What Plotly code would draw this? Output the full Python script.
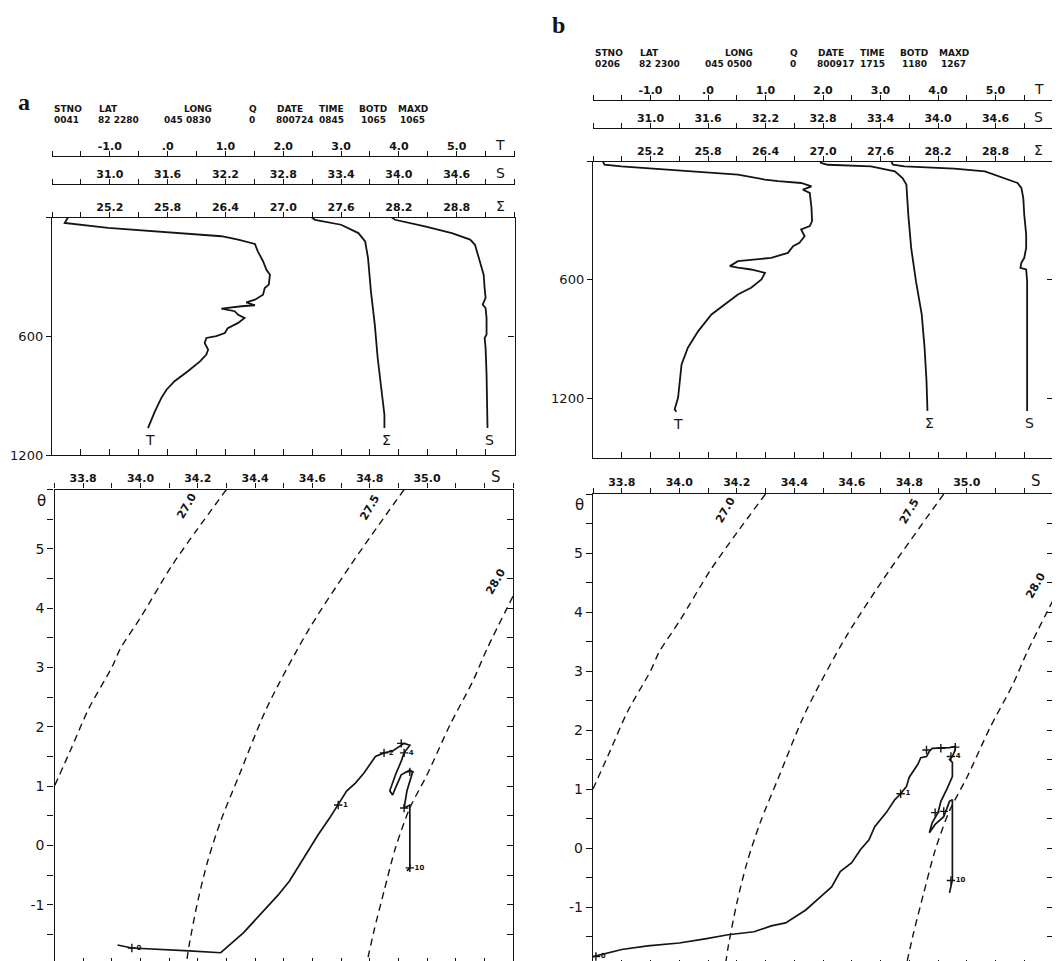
import plotly.graph_objects as go

W, H = 1060, 961

# ---------------- data ----------------
HDR_KEYS = ["STNO", "LAT", "LONG", "Q", "DATE", "TIME", "BOTD", "MAXD"]
HDR_A = ["0041", "82 2280", "045 0830", "0", "800724", "0845", "1065", "1065"]
HDR_B = ["0206", "82 2300", "045 0500", "0", "800917", "1715", "1180", "1267"]

T_LABEL_VALS = [-1.0, 0.0, 1.0, 2.0, 3.0, 4.0, 5.0]
T_LABELS = ["-1.0", ".0", "1.0", "2.0", "3.0", "4.0", "5.0"]
S_LABEL_VALS = [31.0, 31.6, 32.2, 32.8, 33.4, 34.0, 34.6]
S_LABELS = ["31.0", "31.6", "32.2", "32.8", "33.4", "34.0", "34.6"]
SIG_LABEL_VALS = [25.2, 25.8, 26.4, 27.0, 27.6, 28.2, 28.8]
SIG_LABELS = ["25.2", "25.8", "26.4", "27.0", "27.6", "28.2", "28.8"]
DEPTH_LABEL_VALS = [0, 600, 1200]
DEPTH_LABELS = ["", "600", "1200"]
TS_S_LABEL_VALS = [33.8, 34.0, 34.2, 34.4, 34.6, 34.8, 35.0]
TS_S_LABELS = ["33.8", "34.0", "34.2", "34.4", "34.6", "34.8", "35.0"]
TS_T_LABEL_VALS = [-1, 0, 1, 2, 3, 4, 5]
TS_T_LABELS = ["-1", "0", "1", "2", "3", "4", "5"]

# station a profiles
A_T_DEPTH = [0, 30, 55, 81, 97, 114, 136, 173, 223, 266, 291, 341, 358, 392, 417, 430, 445, 450,
             462, 475, 493, 509, 534, 560, 585, 601, 610, 635, 669, 694, 728, 778, 828, 871, 913,
             980, 1039, 1064]
A_T = [-1.72, -1.78, -1.03, 0.12, 0.93, 1.22, 1.51, 1.56, 1.65, 1.71, 1.77, 1.75, 1.68, 1.65, 1.51,
       1.36, 1.51, 1.28, 0.93, 1.16, 1.22, 1.33, 1.22, 1.04, 0.99, 0.84, 0.67, 0.64, 0.70, 0.67, 0.56,
       0.35, 0.12, -0.02, -0.11, -0.22, -0.31, -0.34]
A_SIG_DEPTH = [0, 14, 39, 81, 123, 207, 375, 543, 711, 879, 997, 1064]
A_SIG = [27.29, 27.33, 27.60, 27.78, 27.85, 27.88, 27.91, 27.95, 27.98, 28.02, 28.05, 28.05]
A_S_DEPTH = [0, 14, 47, 81, 114, 140, 207, 291, 358, 408, 442, 459, 509, 593, 610, 660, 795, 963, 1064]
A_S = [33.92, 33.96, 34.27, 34.55, 34.74, 34.79, 34.83, 34.88, 34.89, 34.90, 34.87, 34.90, 34.91,
       34.91, 34.89, 34.90, 34.91, 34.92, 34.92]

# station b profiles
B_T_DEPTH = [0, 19, 27, 44, 69, 94, 102, 111, 128, 145, 161, 237, 304, 329, 346, 380, 413, 430, 464,
             489, 506, 531, 539, 548, 565, 598, 640, 674, 725, 775, 859, 943, 1027, 1111, 1195, 1254, 1267]
B_T = [-1.83, -1.80, -1.51, -0.64, 0.52, 0.99, 1.22, 1.62, 1.80, 1.65, 1.77, 1.80, 1.81, 1.77, 1.62,
       1.68, 1.59, 1.48, 1.39, 1.10, 0.52, 0.38, 0.52, 0.75, 0.99, 0.93, 0.75, 0.52, 0.29, 0.06, -0.17,
       -0.35, -0.46, -0.49, -0.52, -0.58, -0.55]
B_SIG_DEPTH = [0, 10, 19, 27, 52, 86, 119, 271, 439, 607, 775, 943, 1111, 1262]
B_SIG = [26.97, 26.98, 27.05, 27.50, 27.75, 27.83, 27.87, 27.89, 27.92, 27.97, 28.03, 28.06, 28.08, 28.09]
B_S_DEPTH = [0, 19, 27, 39, 52, 77, 94, 111, 136, 187, 271, 372, 439, 489, 514, 540, 548, 607, 775,
             1111, 1262]
B_S = [33.51, 33.53, 33.65, 34.17, 34.49, 34.63, 34.73, 34.83, 34.87, 34.89, 34.90, 34.92, 34.92,
       34.90, 34.87, 34.86, 34.92, 34.93, 34.93, 34.93, 34.93]

# T-S curves
A_TS_S = [33.92, 33.97, 34.17, 34.28, 34.36, 34.44, 34.48, 34.52, 34.57, 34.62, 34.66, 34.69, 34.72,
          34.75, 34.78, 34.82, 34.85, 34.88, 34.91, 34.92, 34.94, 34.92, 34.91, 34.89, 34.87, 34.88,
          34.89, 34.91, 34.94, 34.95, 34.93, 34.92, 34.94, 34.94, 34.94, 34.93]
A_TS_T = [-1.68, -1.73, -1.78, -1.81, -1.47, -1.05, -0.84, -0.60, -0.21, 0.18, 0.46, 0.68, 0.92,
          1.05, 1.22, 1.50, 1.56, 1.59, 1.69, 1.72, 1.69, 1.56, 1.42, 1.19, 0.92, 0.85, 0.97, 1.19,
          1.27, 1.24, 0.92, 0.63, 0.68, 0.51, -0.38, -0.43]
B_TS_S = [33.70, 33.80, 33.89, 34.00, 34.09, 34.17, 34.26, 34.32, 34.37, 34.44, 34.50, 34.53, 34.56,
          34.60, 34.63, 34.66, 34.68, 34.72, 34.75, 34.77, 34.79, 34.80, 34.83, 34.84, 34.86, 34.87,
          34.88, 34.91, 34.94, 34.96, 34.96, 34.95, 34.94, 34.95, 34.95, 34.93, 34.91, 34.90, 34.88,
          34.87, 34.89, 34.92, 34.93, 34.94, 34.95, 34.95, 34.95, 34.95, 34.94]
B_TS_T = [-1.84, -1.72, -1.66, -1.61, -1.54, -1.47, -1.42, -1.32, -1.27, -1.05, -0.79, -0.66, -0.40,
          -0.25, -0.03, 0.14, 0.36, 0.60, 0.82, 0.92, 1.04, 1.20, 1.42, 1.53, 1.55, 1.64, 1.69, 1.69,
          1.70, 1.72, 1.67, 1.55, 1.50, 1.45, 1.21, 0.99, 0.79, 0.60, 0.43, 0.26, 0.40, 0.53, 0.65,
          0.79, 0.82, 0.70, 0.31, -0.54, -0.76]

# depth markers on T-S curves (every 100 m)
A_MK_S = [33.97, 34.69, 34.85, 34.91, 34.92, 34.94, 34.92, 34.94]
A_MK_T = [-1.73, 0.68, 1.56, 1.72, 1.56, 1.24, 0.63, -0.38]
A_MK_L = ["0", "1", "2", "", "4", "", "", "10"]
B_MK_S = [33.71, 34.77, 34.86, 34.91, 34.96, 34.945, 34.89, 34.92, 34.945]
B_MK_T = [-1.84, 0.92, 1.66, 1.69, 1.71, 1.55, 0.60, 0.62, -0.55]
B_MK_L = ["0", "1", "", "", "", "4", "", "", "10"]

# isopycnals (sigma-theta)
ISO_NAMES = ["27.0", "27.5", "28.0"]
ISO_27_0_S = [34.30, 34.20, 34.11, 34.00, 33.93, 33.90, 33.82, 33.76, 33.70]
ISO_27_0_T = [6.0, 5.34, 4.72, 3.84, 3.32, 3.00, 2.31, 1.65, 1.00]
ISO_27_5_S = [34.92, 34.73, 34.58, 34.44, 34.345, 34.28, 34.235, 34.20, 34.17, 34.16]
ISO_27_5_T = [6.0, 4.70, 3.58, 2.31, 1.19, 0.41, -0.26, -0.94, -1.68, -2.0]
ISO_28_0_S = [35.30, 35.21, 35.16, 35.08, 35.00, 34.94, 34.89, 34.85, 34.815, 34.79]
ISO_28_0_T = [4.20, 3.32, 2.77, 2.03, 1.19, 0.63, -0.04, -0.77, -1.44, -1.98]
ISO_LBL_S = [34.16, 34.80, 35.24]
ISO_LBL_T = [5.72, 5.70, 4.45]

# ---------------- style ----------------
FONT = "DejaVu Sans"
INK = "#141414"
LW = 1.4
fig = go.Figure()
layout_axes = {}
annotations = []


def fx(px):
    return px / W


def fy(py):
    return 1 - py / H


def ticks_and_text(lo, hi, step, label_vals, labels):
    n = int(round((hi - lo) / step))
    vals = [round(lo + step * i, 4) for i in range(n + 1)]
    text = []
    for v in vals:
        t = ""
        for lv, lt in zip(label_vals, labels):
            if abs(lv - v) < 1e-6:
                t = lt
        text.append(t)
    return vals, text


def base_axis(**kw):
    d = dict(showgrid=False, zeroline=False, showline=True, linewidth=LW, linecolor=INK,
             tickcolor=INK, tickwidth=LW, automargin=False, fixedrange=True, layer="above traces")
    d.update(kw)
    return d


TICKFONT_B = dict(family=FONT, size=11, color=INK, weight="bold")
TICKFONT_N = dict(family=FONT, size=13, color=INK)


def empty_trace(xa, ya):
    fig.add_trace(go.Scatter(x=[], y=[], xaxis=xa, yaxis=ya, mode="lines",
                             showlegend=False, hoverinfo="skip"))


def profile_panel(ids, box, header_y, depth_max, hdr_vals, prof):
    xb, xT, xS, xG, yD, yR = ids
    left, right, top, bottom = box
    dom_x = [fx(left), fx(right)]
    dom_y = [fy(bottom), fy(top)]
    xbid = "x" if xb == 1 else f"x{xb}"
    ydid = "y" if yD == 1 else f"y{yD}"
    v, _ = ticks_and_text(-2, 6, 0.5, [], [])
    layout_axes["xaxis" if xb == 1 else f"xaxis{xb}"] = base_axis(
        domain=dom_x, range=[-2, 6], anchor=ydid, side="bottom", tickmode="array",
        tickvals=v, ticktext=[""] * len(v), ticks="inside", ticklen=6)
    layout_axes["yaxis" if yD == 1 else f"yaxis{yD}"] = base_axis(
        domain=dom_y, range=[depth_max, 0], anchor=xbid, side="left", tickmode="array",
        tickvals=DEPTH_LABEL_VALS, ticktext=DEPTH_LABELS, ticks="outside", ticklen=5,
        tickfont=TICKFONT_N)
    layout_axes[f"yaxis{yR}"] = base_axis(
        range=[depth_max, 0], anchor=xbid, overlaying=ydid, side="right", tickmode="array",
        tickvals=DEPTH_LABEL_VALS, ticktext=[""] * 3, ticks="inside", ticklen=6)
    empty_trace(xbid, ydid)
    empty_trace(xbid, f"y{yR}")
    yT, yS = header_y
    specs = [(xT, -2, 6, 0.5, T_LABEL_VALS, T_LABELS, yT, "T"),
             (xS, 30.4, 35.2, 0.3, S_LABEL_VALS, S_LABELS, yS, "S"),
             (xG, 24.6, 29.4, 0.3, SIG_LABEL_VALS, SIG_LABELS, top, "Σ")]
    for num, lo, hi, st, lv, lt, py, letter in specs:
        v, t = ticks_and_text(lo, hi, st, lv, lt)
        layout_axes[f"xaxis{num}"] = base_axis(
            range=[lo, hi], anchor="free", position=fy(py), overlaying=xbid, side="top",
            tickmode="array", tickvals=v, ticktext=t, ticks="outside", ticklen=5,
            ticklabelstandoff=-4, tickfont=TICKFONT_B)
        annotations.append(dict(x=lo + st * 15.5, y=fy(py), xref=f"x{num}", yref="paper",
                                text=letter, showarrow=False, yanchor="bottom", yshift=1,
                                font=dict(family=FONT, size=14, color=INK)))
    (tD, tV), (sD, sV), (gD, gV) = prof
    for num, xs, ds, letter in [(xT, tV, tD, "T"), (xS, sV, sD, "S"), (xG, gV, gD, "Σ")]:
        fig.add_trace(go.Scatter(x=xs, y=ds, xaxis=f"x{num}", yaxis=ydid, mode="lines",
                                 line=dict(color=INK, width=1.8), showlegend=False,
                                 hoverinfo="skip"))
        annotations.append(dict(x=xs[-1], y=ds[-1], xref=f"x{num}", yref=ydid, text=letter,
                                showarrow=False, yanchor="top", yshift=-2, xshift=2,
                                font=dict(family=FONT, size=14, color=INK)))
    hx = [0, 45, 130, 195, 223, 265, 305, 344]
    vx = [0, 44, 110, 195, 222, 265, 307, 346]
    ky, vy = header_y[0] - 47, header_y[0] - 36
    for k, kxo, val, vxo in zip(HDR_KEYS, hx, hdr_vals, vx):
        annotations.append(dict(x=fx(left + kxo), y=fy(ky), xref="paper", yref="paper", text=k,
                                showarrow=False, xanchor="left", yanchor="middle",
                                font=dict(family=FONT, size=9, color=INK, weight="bold")))
        annotations.append(dict(x=fx(left + vxo), y=fy(vy), xref="paper", yref="paper", text=val,
                                showarrow=False, xanchor="left", yanchor="middle",
                                font=dict(family=FONT, size=9, color=INK, weight="bold")))


def ts_panel(ids, box, curve, marks):
    xt, xbt, yl, yr = ids
    left, right, top, bottom = box
    xtid, ylid = f"x{xt}", f"y{yl}"
    v, t = ticks_and_text(33.7, 35.3, 0.1, TS_S_LABEL_VALS, TS_S_LABELS)
    layout_axes[f"xaxis{xt}"] = base_axis(
        domain=[fx(left), fx(right)], range=[33.7, 35.3], anchor=ylid, side="top",
        tickmode="array", tickvals=v, ticktext=t, ticks="outside", ticklen=5,
        ticklabelstandoff=-3, tickfont=TICKFONT_B)
    layout_axes[f"xaxis{xbt}"] = base_axis(
        range=[33.7, 35.3], anchor=ylid, overlaying=xtid, side="bottom", tickmode="array",
        tickvals=v, ticktext=[""] * len(v), ticks="inside", ticklen=6)
    vy, ty = ticks_and_text(-2, 6, 0.5, TS_T_LABEL_VALS, TS_T_LABELS)
    layout_axes[f"yaxis{yl}"] = base_axis(
        domain=[fy(bottom), fy(top)], range=[-2, 6], anchor=xtid, side="left", tickmode="array",
        tickvals=vy, ticktext=ty, ticks="outside", ticklen=6, tickfont=dict(TICKFONT_N, size=14))
    layout_axes[f"yaxis{yr}"] = base_axis(
        range=[-2, 6], anchor=xtid, overlaying=ylid, side="right", tickmode="array",
        tickvals=vy, ticktext=[""] * len(vy), ticks="inside", ticklen=6)
    empty_trace(f"x{xbt}", ylid)
    empty_trace(xtid, f"y{yr}")
    annotations.append(dict(x=35.24, y=fy(top), xref=xtid, yref="paper", text="S",
                            showarrow=False, yanchor="bottom", yshift=2,
                            font=dict(family=FONT, size=15, color=INK)))
    annotations.append(dict(x=fx(left), y=6, xref="paper", yref=ylid, text="θ",
                            showarrow=False, xanchor="right", xshift=-7, yshift=-11,
                            font=dict(family=FONT, size=15, color=INK)))
    for s_arr, t_arr in [(ISO_27_0_S, ISO_27_0_T), (ISO_27_5_S, ISO_27_5_T), (ISO_28_0_S, ISO_28_0_T)]:
        fig.add_trace(go.Scatter(x=s_arr, y=t_arr, xaxis=xtid, yaxis=ylid, mode="lines",
                                 line=dict(color=INK, width=1.4, dash="7px,5px", shape="spline",
                                           smoothing=0.8),
                                 showlegend=False, hoverinfo="skip", cliponaxis=True))
    for name, ls, lt in zip(ISO_NAMES, ISO_LBL_S, ISO_LBL_T):
        annotations.append(dict(x=ls, y=lt, xref=xtid, yref=ylid, text=name, showarrow=False,
                                textangle=-60,
                                font=dict(family=FONT, size=11, color=INK, weight="bold")))
    cs, ct = curve
    fig.add_trace(go.Scatter(x=cs, y=ct, xaxis=xtid, yaxis=ylid, mode="lines",
                             line=dict(color=INK, width=1.7), showlegend=False, hoverinfo="skip"))
    ms, mt, ml = marks
    fig.add_trace(go.Scatter(x=ms, y=mt, xaxis=xtid, yaxis=ylid, mode="markers+text",
                             text=ml, textposition="middle right",
                             textfont=dict(family=FONT, size=7, color=INK, weight="bold"),
                             marker=dict(symbol="cross-thin", size=6, color=INK,
                                         line=dict(width=1.4, color=INK)),
                             showlegend=False, hoverinfo="skip"))


profile_panel((1, 2, 3, 4, 1, 2), (44, 506.5, 209, 447), (148, 176), 1200, HDR_A,
              ((A_T_DEPTH, A_T), (A_S_DEPTH, A_S), (A_SIG_DEPTH, A_SIG)))
profile_panel((5, 6, 7, 8, 3, 4), (585, 1045, 153, 450), (92, 120), 1500, HDR_B,
              ((B_T_DEPTH, B_T), (B_S_DEPTH, B_S), (B_SIG_DEPTH, B_SIG)))
ts_panel((9, 10, 5, 6), (46.5, 505, 481.5, 956), (A_TS_S, A_TS_T), (A_MK_S, A_MK_T, A_MK_L))
ts_panel((11, 12, 7, 8), (585, 1045, 486, 958), (B_TS_S, B_TS_T), (B_MK_S, B_MK_T, B_MK_L))

annotations.append(dict(x=fx(16), y=fy(94), xref="paper", yref="paper", text="a", showarrow=False,
                        xanchor="center", yanchor="middle",
                        font=dict(family="Liberation Serif", size=24, color=INK, weight="bold")))
annotations.append(dict(x=fx(550), y=fy(17), xref="paper", yref="paper", text="b", showarrow=False,
                        xanchor="center", yanchor="middle",
                        font=dict(family="Liberation Serif", size=24, color=INK, weight="bold")))

fig.update_layout(width=W, height=H, margin=dict(l=0, r=0, t=0, b=0), template="none",
                  paper_bgcolor="white", plot_bgcolor="rgba(0,0,0,0)", showlegend=False,
                  annotations=annotations, **layout_axes)
fig.write_html("out.html")
